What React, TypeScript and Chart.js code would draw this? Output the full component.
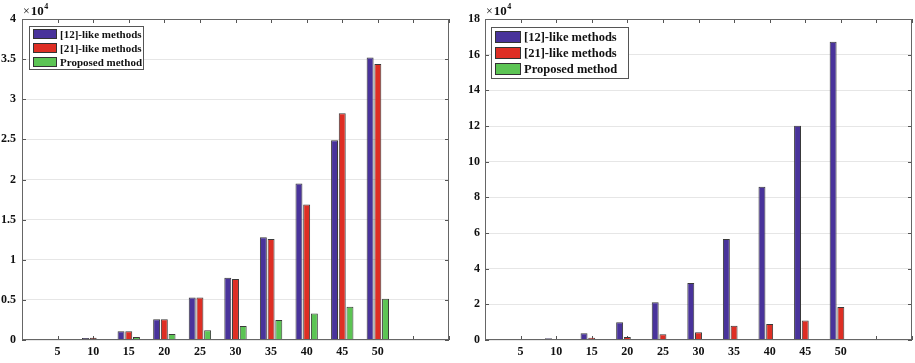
import React, { useEffect, useRef } from "react";
import { Chart, registerables } from "chart.js";

Chart.register(...registerables);

// ---- data (values in units of 10^4) ----
const categories = [5, 10, 15, 20, 25, 30, 35, 40, 45, 50];
const seriesLabels = ["[12]-like methods", "[21]-like methods", "Proposed method"];

const leftLike12 = [0.005, 0.025, 0.108, 0.26, 0.53, 0.775, 1.28, 1.95, 2.49, 3.52];
const leftLike21 = [0.005, 0.028, 0.108, 0.26, 0.53, 0.76, 1.258, 1.69, 2.825, 3.44];
const leftProposed = [0.003, 0.013, 0.038, 0.075, 0.12, 0.175, 0.25, 0.33, 0.415, 0.515];

const rightLike12 = [0.02, 0.1, 0.38, 0.99, 2.12, 3.2, 5.67, 8.6, 12.02, 16.72];
const rightLike21 = [0.01, 0.05, 0.13, 0.17, 0.32, 0.43, 0.8, 0.9, 1.1, 1.85];
const rightProposed = [0.002, 0.004, 0.006, 0.01, 0.012, 0.016, 0.02, 0.025, 0.03, 0.035];

const leftYTicks = [0, 0.5, 1, 1.5, 2, 2.5, 3, 3.5, 4];
const rightYTicks = [0, 2, 4, 6, 8, 10, 12, 14, 16, 18];
const xTickMarks = [0, 5, 10, 15, 20, 25, 30, 35, 40, 45, 50, 55, 60];
const xTickLabels = [5, 10, 15, 20, 25, 30, 35, 40, 45, 50];

const COLORS = ["rgb(73,51,155)", "rgb(222,46,36)", "rgb(92,196,84)"];
const SERIF = "'Liberation Serif', 'Times New Roman', serif";

type LegendCfg = {
  x: number; y: number; w: number; h: number;
  swW: number; swH: number; rowH: number; font: number; pad: number;
};

type PanelProps = {
  left: number; width: number; rightPad: number;
  series: number[][];
  yTicks: number[];
  yAxisWidth: number;
  yPad: number;
  legend: LegendCfg;
};

function Panel(props: PanelProps) {
  const ref = useRef<HTMLCanvasElement | null>(null);
  useEffect(() => {
    const canvas = ref.current;
    if (!canvas) return;
    const yMax = props.yTicks[props.yTicks.length - 1];

    const framePlugin = {
      id: "matlabFrame",
      beforeDatasetsDraw(chart: any) {
        const { ctx, chartArea: a, scales } = chart;
        ctx.save();
        ctx.strokeStyle = "#555";
        ctx.lineWidth = 1;
        ctx.beginPath();
        for (const v of xTickMarks) {
          const px = Math.round(scales.x.getPixelForValue(v)) + 0.5;
          ctx.moveTo(px, a.bottom);
          ctx.lineTo(px, a.bottom - 4);
          ctx.moveTo(px, a.top);
          ctx.lineTo(px, a.top + 4);
        }
        for (const v of props.yTicks) {
          const py = Math.round(scales.y.getPixelForValue(v)) + 0.5;
          ctx.moveTo(a.left, py);
          ctx.lineTo(a.left + 4, py);
          ctx.moveTo(a.right, py);
          ctx.lineTo(a.right - 4, py);
        }
        ctx.stroke();
        ctx.restore();
      },
      afterDatasetsDraw(chart: any) {
        const { ctx, chartArea: a } = chart;
        ctx.save();
        // frame
        ctx.strokeStyle = "#666";
        ctx.lineWidth = 1;
        ctx.strokeRect(Math.round(a.left) + 0.5, Math.round(a.top) + 0.5,
          Math.round(a.right - a.left) - 1, Math.round(a.bottom - a.top) - 1);

        // exponent label
        ctx.fillStyle = "#111";
        ctx.textBaseline = "alphabetic";
        ctx.textAlign = "left";
        ctx.font = `12px ${SERIF}`;
        const ex = a.left + 1;
        const ey = a.top - 4;
        ctx.fillText("\u00d7", ex, ey);
        const wx = ctx.measureText("\u00d7").width;
        ctx.font = `bold 13px ${SERIF}`;
        ctx.fillText("10", ex + wx + 1, ey);
        const w10 = ctx.measureText("10").width;
        ctx.font = `bold 8px ${SERIF}`;
        ctx.fillText("4", ex + wx + 1 + w10 + 0.5, ey - 6);

        // legend
        const L = props.legend;
        ctx.fillStyle = "#fff";
        ctx.fillRect(L.x, L.y, L.w, L.h);
        ctx.strokeStyle = "#555";
        ctx.strokeRect(L.x + 0.5, L.y + 0.5, L.w - 1, L.h - 1);
        ctx.font = `bold ${L.font}px ${SERIF}`;
        ctx.textBaseline = "middle";
        chart.data.datasets.forEach((ds: any, i: number) => {
          const cy = L.y + L.pad + L.rowH * i + L.rowH / 2;
          const sx = L.x + 4;
          ctx.fillStyle = ds.backgroundColor;
          ctx.fillRect(sx, Math.round(cy - L.swH / 2), L.swW, L.swH);
          ctx.strokeStyle = "#333";
          ctx.strokeRect(sx + 0.5, Math.round(cy - L.swH / 2) + 0.5, L.swW - 1, L.swH - 1);
          ctx.fillStyle = "#111";
          ctx.fillText(ds.label, sx + L.swW + 3, cy + 1);
        });
        ctx.restore();
      },
    };

    const chart = new Chart(canvas, {
      type: "bar",
      data: {
        datasets: props.series.map((vals, i) => ({
          label: seriesLabels[i],
          data: categories.map((c, j) => ({ x: c, y: vals[j] })),
          backgroundColor: COLORS[i],
          borderColor: "#3a3a3a",
          borderWidth: 1,
          categoryPercentage: 0.65,
          barPercentage: 0.9,
        })),
      },
      options: {
        animation: false,
        responsive: false,
        maintainAspectRatio: false,
        layout: { padding: { top: 19, right: props.rightPad, left: 0, bottom: 0 } },
        plugins: { legend: { display: false }, tooltip: { enabled: false } },
        scales: {
          x: {
            type: "linear",
            min: 0,
            max: 60,
            offset: false,
            grid: { display: false, drawTicks: false },
            border: { display: false },
            afterBuildTicks: (s: any) => {
              s.ticks = xTickLabels.map((v) => ({ value: v }));
            },
            afterFit: (s: any) => { s.height = 23; },
            ticks: {
              autoSkip: false,
              maxRotation: 0,
              padding: 5,
              color: "#111",
              font: { family: SERIF, size: 12, weight: "bold" },
            },
          },
          y: {
            min: 0,
            max: yMax,
            grid: { color: "#e6e6e6", drawTicks: false },
            border: { display: false },
            afterBuildTicks: (s: any) => {
              s.ticks = props.yTicks.map((v) => ({ value: v }));
            },
            afterFit: (s: any) => { s.width = props.yAxisWidth; },
            ticks: {
              padding: props.yPad,
              color: "#111",
              font: { family: SERIF, size: 12, weight: "bold" },
              callback: (v: any) => String(v),
            },
          },
        },
      },
      plugins: [framePlugin],
    } as any);
    return () => chart.destroy();
  }, []);
  return (
    <canvas
      ref={ref}
      width={props.width}
      height={363}
      style={{ position: "absolute", left: props.left, top: 0, width: props.width, height: 363 }}
    />
  );
}

export default function App() {
  return (
    <div style={{ position: "fixed", left: 0, top: 0, width: 915, height: 363, background: "#fff" }}>
      <Panel
        left={0}
        width={455}
        rightPad={6}
        series={[leftLike12, leftLike21, leftProposed]}
        yTicks={leftYTicks}
        yAxisWidth={22}
        yPad={6}
        legend={{ x: 29, y: 26, w: 115, h: 44, swW: 24, swH: 10, rowH: 13.7, font: 11, pad: 1.5 }}
      />
      <Panel
        left={455}
        width={460}
        rightPad={3}
        series={[rightLike12, rightLike21, rightProposed]}
        yTicks={rightYTicks}
        yAxisWidth={30}
        yPad={5}
        legend={{ x: 36, y: 27, w: 138, h: 52, swW: 26, swH: 12, rowH: 16, font: 12.5, pad: 2 }}
      />
    </div>
  );
}
